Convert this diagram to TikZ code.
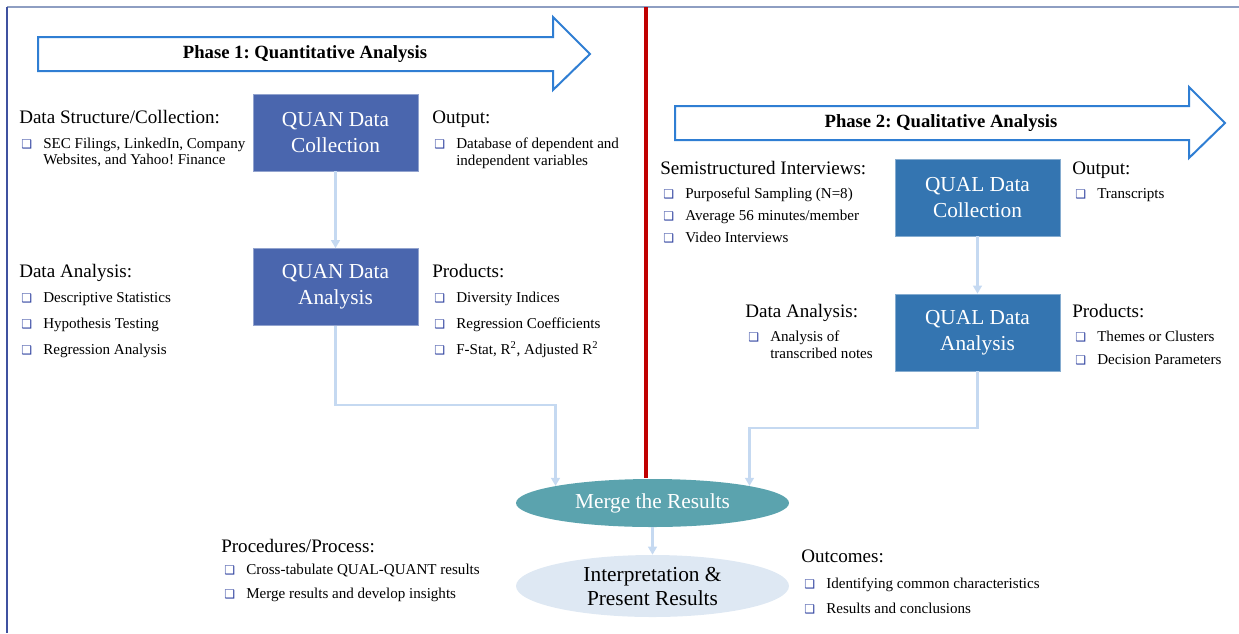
\documentclass[tikz,border=0pt]{standalone}
\usepackage{fontspec}
\setmainfont{Liberation Serif}
\newfontfamily\dingfont{DejaVu Sans}
\usetikzlibrary{shapes,shapes.geometric,positioning,arrows,arrows.meta}
\definecolor{quanblue}{HTML}{4A66AE}
\definecolor{qualblue}{HTML}{3475B1}
\definecolor{mergeteal}{HTML}{5BA3AE}
\definecolor{interpblue}{HTML}{DEE8F3}
\definecolor{connblue}{HTML}{C5D9F1}
\definecolor{phaseblue}{HTML}{2F7ED3}
\definecolor{bulblue}{HTML}{2C3F9E}
\definecolor{framegray}{HTML}{8E9EC2}
\definecolor{frameblue}{HTML}{3F51A0}
\definecolor{splitred}{HTML}{C00000}

\newcommand{\bul}{\makebox[16.5pt][l]{\dingfont\fontsize{9}{9}\selectfont\textcolor{bulblue}{❑}}}
\frenchspacing

\begin{document}
\begin{tikzpicture}[x=0.75pt,y=-0.75pt,
  phase/.style={draw=phaseblue, line width=1.5pt, fill=white, line join=miter},
  phasetext/.style={font=\fontsize{14}{16}\selectfont\bfseries, inner sep=0pt},
  databox/.style={minimum width=123.75pt, minimum height=57.75pt, inner sep=0pt, align=center,
    text=white, line width=.5pt, font=\fontsize{16}{19.5}\selectfont},
  quan/.style={databox, fill=quanblue, draw=quanblue!60!white},
  qual/.style={databox, fill=qualblue, draw=qualblue!60!white},
  head/.style={anchor=base west, inner sep=0pt, font=\fontsize{14.3}{16}\selectfont},
  item/.style={anchor=base west, inner sep=0pt, font=\fontsize{11.3}{13}\selectfont},
  conn/.style={draw=connblue, line width=1.6pt, -{Triangle[width=6.5pt,length=6pt]}},
  result/.style={ellipse, inner sep=0pt, align=center, minimum width=204.75pt}]

\useasboundingbox (0,0) rectangle (1239,633);

% Frame and split line
\draw[framegray, line width=1.2pt] (7,7) -- (1239,7);
\draw[frameblue, line width=1.2pt] (7,7) -- (7,633);
\draw[splitred, line width=2.5pt] (646,7) -- (646,478);

% Phase arrows
\draw[phase] (38,37) -- (553,37) -- (553,17) -- (590,54) -- (553,90) -- (553,71) -- (38,71) -- cycle;
\node[phasetext] (ph1) at (305,54) {Phase 1: Quantitative Analysis};
\draw[phase] (675,106) -- (1189,106) -- (1189,87) -- (1225,123) -- (1189,158) -- (1189,140) -- (675,140) -- cycle;
\node[phasetext] (ph2) at (941,123) {Phase 2: Qualitative Analysis};

% Data boxes
\node[quan] (qnc) at (335.5,132.5) {QUAN Data\\Collection};
\node[quan] (qna) at (335.5,287) {QUAN Data\\Analysis};
\node[qual] (qlc) at (977.5,197.5) {QUAL Data\\Collection};
\node[qual] (qla) at (977.5,332.5) {QUAL Data\\Analysis};

% Results
\node[result, fill=mergeteal, text=white, minimum height=36pt, font=\fontsize{16}{18}\selectfont] (merge) at (652.5,503) {Merge the Results};
\node[result, fill=interpblue, minimum height=46.5pt, font=\fontsize{16}{18}\selectfont] (interp) at (652.5,586) {Interpretation \&\\Present Results};

% Connectors
\draw[conn] (qnc.south) -- (qna.north);
\draw[conn] (qlc.south) -- (qla.north);
\draw[conn] (qna.south) -- ++(0,79) -| (merge.170);
\draw[conn] (qla.south) -- ++(0,57) -| (merge.10);
\draw[conn] (merge.south) -- (interp.north);

% Phase 1 texts
\node[head] (dsc) at (19,123) {Data Structure/Collection:};
\node[item] (sec1) at (21,148) {\bul SEC Filings, LinkedIn, Company};
\node[item] (sec2) at (43,164) {Websites, and Yahoo! Finance};
\node[head] (out1) at (432,123) {Output:};
\node[item] (db1) at (434,148) {\bul Database of dependent and};
\node[item] (db2) at (456,165) {independent variables};
\node[head] (dan1) at (19,277) {Data Analysis:};
\foreach \t [count=\i] in {Descriptive Statistics, Hypothesis Testing, Regression Analysis}
  \node[item] (dana\i) at (21,276+26*\i) {\bul\t};
\node[head] (prod1) at (432,277) {Products:};
\foreach \t [count=\i] in {Diversity Indices, Regression Coefficients, {F-Stat, R\textsuperscript{2}, Adjusted R\textsuperscript{2}}}
  \node[item] (prda\i) at (434,276+26*\i) {\bul\t};

% Phase 2 texts
\node[head] (ssi) at (660,174) {Semistructured Interviews:};
\foreach \t [count=\i] in {Purposeful Sampling (N=8), Average 56 minutes/member, Video Interviews}
  \node[item] (ssia\i) at (663,176+22*\i) {\bul\t};
\node[head] (out2) at (1072,174) {Output:};
\node[item] (trs) at (1075,198) {\bul Transcripts};
\node[head] (dan2) at (745,317) {Data Analysis:};
\node[item] (atn1) at (748,341) {\bul Analysis of};
\node[item] (atn2) at (770,358) {transcribed notes};
\node[head] (prod2) at (1072,317) {Products:};
\foreach \t [count=\i] in {Themes or Clusters, Decision Parameters}
  \node[item] (prdb\i) at (1075,318+23*\i) {\bul\t};

% Bottom texts
\node[head] (proc) at (221,552) {Procedures/Process:};
\foreach \t [count=\i] in {Cross-tabulate QUAL-QUANT results, Merge results and develop insights}
  \node[item] (proca\i) at (224,550+24*\i) {\bul\t};
\node[head] (outc) at (801,562) {Outcomes:};
\foreach \t [count=\i] in {Identifying common characteristics, Results and conclusions}
  \node[item] (outca\i) at (804,563+25*\i) {\bul\t};

\end{tikzpicture}
\end{document}
